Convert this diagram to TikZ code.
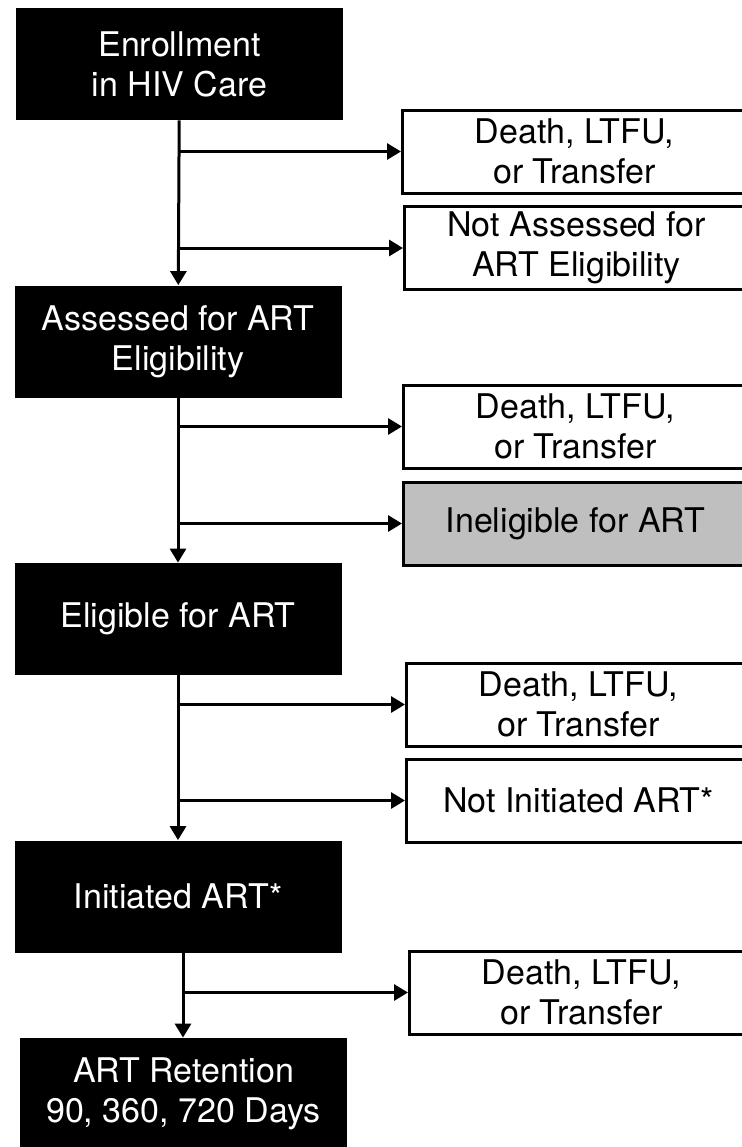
\documentclass[tikz,border=0pt]{standalone}
\usepackage{fontspec}
\setmainfont{TeX Gyre Heros}
\usetikzlibrary{arrows.meta,calc}
\definecolor{IneligClr}{gray}{0.75}

\tikzset{
  stage/.style={fill=black,text=white,inner sep=0pt,minimum width=163.5pt,minimum height=56pt,align=center,font=\fontsize{17}{20}\selectfont},
  outbox/.style={draw=black,line width=1.5pt,fill=white,inner sep=0pt,minimum width=172pt,minimum height=41.5pt,anchor=west,align=center,font=\fontsize{17}{20}\selectfont},
  flow/.style={line width=1.5pt,-{Triangle[length=7pt,width=8pt]}}
}

\begin{document}
\begin{tikzpicture}[x=0.5pt,y=-0.5pt]
\useasboundingbox (0,0) rectangle (742,1147);

\node[stage] (enroll) at (179.5,64) {Enrollment\\in HIV Care};
\node[stage] (assess) at (178,341.5) {Assessed for ART\\Eligibility};
\node[stage] (elig) at (178,619) {Eligible for ART};
\node[stage] (init) at (178,896.5) {Initiated ART*};
\node[stage] (retain) at (183.5,1094) {ART Retention\\90, 360, 720 Days};

\node[outbox] (lossA) at (401,151.5) {Death, LTFU,\\or Transfer};
\node[outbox] (notassess) at (403,248) {Not Assessed for\\ART Eligibility};
\node[outbox] (lossB) at (402,426.5) {Death, LTFU,\\or Transfer};
\node[outbox,fill=IneligClr] (inelig) at (402,523.5) {Ineligible for ART};
\node[outbox] (lossC) at (405,704.5) {Death, LTFU,\\or Transfer};
\node[outbox] (notinit) at (405,800.5) {Not Initiated ART*};
\node[outbox] (lossD) at (408,992.5) {Death, LTFU,\\or Transfer};

\coordinate (initdrop) at ($(init.south)+(5,0)$);

\draw[flow] (enroll) -- (assess);
\draw[flow] (enroll.south |- lossA.west) -- (lossA.west);
\draw[flow] (enroll.south |- notassess.west) -- (notassess.west);

\draw[flow] (assess) -- (elig);
\draw[flow] (assess.south |- lossB.west) -- (lossB.west);
\draw[flow] (assess.south |- inelig.west) -- (inelig.west);

\draw[flow] (elig) -- (init);
\draw[flow] (elig.south |- lossC.west) -- (lossC.west);
\draw[flow] (elig.south |- notinit.west) -- (notinit.west);

\draw[flow] (initdrop) -- (initdrop |- retain.north);
\draw[flow] (initdrop |- lossD.west) -- (lossD.west);
\end{tikzpicture}
\end{document}
